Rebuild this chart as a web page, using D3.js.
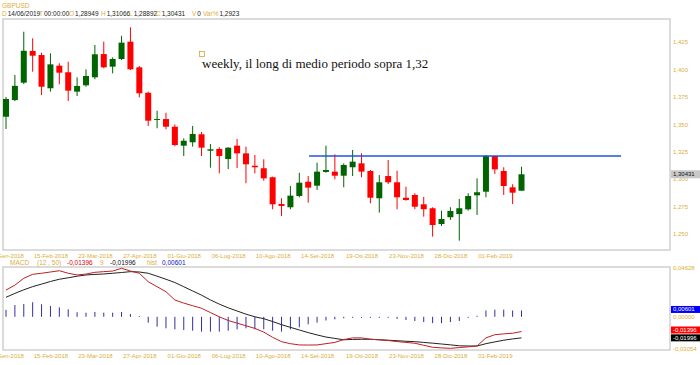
<!DOCTYPE html>
<html>
<head>
<meta charset="utf-8">
<script src="https://cdn.jsdelivr.net/npm/d3@7"></script>
<style>
  body { margin: 0; background: #fff; }
  svg { display: block; font-family: Arial, "Liberation Sans", sans-serif; }
</style>
</head>
<body>
<script>
// GBPUSD weekly candles
const opens  = [1.3568, 1.3720, 1.3879, 1.4168, 1.4131, 1.3828, 1.4034, 1.3974, 1.3797, 1.3855,
                1.3928, 1.4140, 1.4025, 1.4095, 1.4253, 1.4019, 1.3787, 1.3539, 1.3547, 1.3477,
                1.3304, 1.3335, 1.3408, 1.3258, 1.3274, 1.3182, 1.3304, 1.3234, 1.3121, 1.3098,
                1.3016, 1.2772, 1.2742, 1.2845, 1.2975, 1.2939, 1.3064, 1.3067, 1.3030, 1.3107,
                1.3143, 1.3073, 1.2824, 1.3027, 1.2970, 1.2829, 1.2854, 1.2769, 1.2733, 1.2589,
                1.2651, 1.2680, 1.2723, 1.2851, 1.2884, 1.3210, 1.3073, 1.2924, 1.2893];
const highs  = [1.3748, 1.3949, 1.4344, 1.4284, 1.4152, 1.4147, 1.4056, 1.4070, 1.3928, 1.4001,
                1.4223, 1.4253, 1.4110, 1.4307, 1.4384, 1.4031, 1.3797, 1.3623, 1.3605, 1.3498,
                1.3371, 1.3484, 1.3429, 1.3319, 1.3289, 1.3289, 1.3365, 1.3295, 1.3219, 1.3180,
                1.3021, 1.2824, 1.2936, 1.3057, 1.3027, 1.3149, 1.3304, 1.3225, 1.3143, 1.3265,
                1.3234, 1.3082, 1.3036, 1.3173, 1.3076, 1.2930, 1.2870, 1.2838, 1.2742, 1.2711,
                1.2742, 1.2818, 1.2870, 1.3006, 1.3219, 1.3210, 1.3107, 1.2952, 1.3112];
const lows   = [1.3456, 1.3710, 1.3867, 1.3979, 1.3766, 1.3797, 1.3864, 1.3712, 1.3757, 1.3842,
                1.3910, 1.4010, 1.3964, 1.4086, 1.3995, 1.3745, 1.3484, 1.3463, 1.3453, 1.3299,
                1.3210, 1.3295, 1.3210, 1.3103, 1.3052, 1.3091, 1.3100, 1.2961, 1.3052, 1.2984,
                1.2724, 1.2662, 1.2724, 1.2833, 1.2784, 1.2900, 1.3057, 1.2997, 1.2924, 1.3027,
                1.3016, 1.2778, 1.2693, 1.2954, 1.2724, 1.2802, 1.2724, 1.2656, 1.2474, 1.2571,
                1.2626, 1.2437, 1.2711, 1.2672, 1.2833, 1.3046, 1.2854, 1.2772, 1.2893];
const closes = [1.3730, 1.3850, 1.4170, 1.4125, 1.3842, 1.4046, 1.3970, 1.3806, 1.3849, 1.3940,
                1.4138, 1.4019, 1.4095, 1.4244, 1.4001, 1.3782, 1.3532, 1.3548, 1.3477, 1.3310,
                1.3349, 1.3411, 1.3286, 1.3271, 1.3210, 1.3286, 1.3234, 1.3134, 1.3107, 1.3006,
                1.2769, 1.2754, 1.2848, 1.2966, 1.2921, 1.3067, 1.3082, 1.3030, 1.3128, 1.3158,
                1.3067, 1.2829, 1.2970, 1.2970, 1.2833, 1.2808, 1.2747, 1.2724, 1.2580, 1.2635,
                1.2708, 1.2733, 1.2845, 1.2879, 1.3210, 1.3088, 1.2936, 1.2875, 1.30431];

// MACD (12, 50), signal 9, histogram
const macdLine = [0.0254, 0.0300, 0.0365, 0.0403, 0.0413, 0.0425, 0.0437, 0.0413, 0.0397, 0.0405,
                  0.0422, 0.0428, 0.0434, 0.0460, 0.0434, 0.0413, 0.0333, 0.0285, 0.0238, 0.0159,
                  0.0130, 0.0105, 0.0081, 0.0040, 0.0000, -0.0035, -0.0060, -0.0085, -0.0110, -0.0145,
                  -0.0195, -0.0236, -0.0255, -0.0267, -0.0268, -0.0267, -0.0255, -0.0243, -0.0216, -0.0200,
                  -0.0200, -0.0213, -0.0218, -0.0225, -0.0235, -0.0243, -0.0251, -0.0270, -0.0289, -0.0295,
                  -0.0299, -0.0292, -0.0285, -0.0277, -0.0200, -0.0170, -0.0162, -0.0156, -0.01396];
const signalLine = [0.0185, 0.0222, 0.0256, 0.0286, 0.0310, 0.0335, 0.0356, 0.0370, 0.0385, 0.0397,
                    0.0402, 0.0406, 0.0413, 0.0420, 0.0428, 0.0425, 0.0413, 0.0385, 0.0356, 0.0325,
                    0.0285, 0.0245, 0.0205, 0.0160, 0.0120, 0.0085, 0.0055, 0.0025, 0.0000, -0.0018,
                    -0.0045, -0.0075, -0.0100, -0.0125, -0.0150, -0.0172, -0.0192, -0.0205, -0.0218, -0.0215,
                    -0.0213, -0.0213, -0.0218, -0.0222, -0.0227, -0.0232, -0.0236, -0.0243, -0.0250, -0.0258,
                    -0.0266, -0.0275, -0.0277, -0.0277, -0.0255, -0.0238, -0.0222, -0.0210, -0.01996];
const histValues = [0.0065, 0.0112, 0.0121, 0.0138, 0.0119, 0.0102, 0.0090, 0.0071, 0.0043, 0.0039,
                    0.0046, 0.0039, 0.0039, 0.0046, 0.0027, 0.0008, -0.0056, -0.0094, -0.0109, -0.0119,
                    -0.0125, -0.0132, -0.0141, -0.0141, -0.0141, -0.0132, -0.0119, -0.0109, -0.0119, -0.0119,
                    -0.0132, -0.0141, -0.0119, -0.0100, -0.0071, -0.0056, -0.0035, -0.0024, -0.0014, -0.0010,
                    -0.0010, -0.0010, -0.0010, -0.0010, -0.0020, -0.0030, -0.0040, -0.0050, -0.0060, -0.0060,
                    -0.0050, -0.0040, -0.0010, 0.0010, 0.0060, 0.0068, 0.0068, 0.0060, 0.00601];

// Axis labels
const dateLabels = ["11-Gen-2018", "15-Feb-2018", "23-Mar-2018", "27-Apr-2018", "01-Giu-2018", "06-Lug-2018",
                    "10-Ago-2018", "14-Set-2018", "19-Ott-2018", "23-Nov-2018", "28-Dic-2018", "01-Feb-2019"];
const dateLabelIdx = [0, 5, 10, 15, 20, 25, 30, 35, 40, 45, 50, 55];
const priceTicks = [1.250, 1.275, 1.300, 1.325, 1.350, 1.375, 1.400, 1.425];
const macdTicks = [0.04628, 0, -0.03054];

// Resistance line (value, from candle, to candle)
const resistance = [{value: 1.321, from: 34.1, to: 69.2}];

const width = 700;
const height = 365;
const gold = "#dcae3c";
const up = "#006400";
const down = "#ff0000";

const it = d3.formatLocale({decimal: ",", thousands: ".", grouping: [3], currency: ["", ""], minus: "-"});
const f3 = it.format(".3f");
const f5 = it.format(".5f");

const svg = d3.select("body").append("svg")
    .attr("width", width)
    .attr("height", height);

const pricePanel = {left: 3, right: 670, top: 19, bottom: 250};
const macdPanel = {left: 3, right: 670, top: 267, bottom: 350};

const n = closes.length;
const x = d3.scaleLinear().domain([0, n - 1]).range([6, 521.5]);
const y = d3.scaleLinear().domain([1.2352, 1.446]).range([pricePanel.bottom, pricePanel.top]);
const ym = d3.scaleLinear().domain([-0.03054, 0.04628]).range([349, 268]);

// Panel frames
[pricePanel, macdPanel].forEach((p) => {
    svg.append("rect")
        .attr("x", p.left)
        .attr("y", p.top)
        .attr("width", p.right - p.left)
        .attr("height", p.bottom - p.top)
        .attr("fill", "none")
        .attr("stroke", "#d0d0d0")
        .attr("stroke-width", 1.5);
});

// Header
const header = svg.append("g").attr("font-size", "6.5px");
header.append("text").attr("x", 2).attr("y", 8).attr("fill", gold).text("GBPUSD");

const info = [
    ["D", "14/06/2019", 2], ["T", "00:00:00", 39], ["O", "1,28949", 69], ["H", "1,31066", 101],
    ["L", "1,28892", 129], ["C", "1,30431", 156], ["V", "0", 192], ["Var%", "1,2923", 203]
];
info.forEach(([k, v, px]) => {
    const t = header.append("text").attr("x", px).attr("y", 16);
    t.append("tspan").attr("fill", gold).text(k);
    t.append("tspan").attr("fill", "#222").attr("dx", 1).text(v);
});

// Price axis on the right
const yAxis = svg.append("g")
    .attr("transform", `translate(${pricePanel.right},0)`)
    .call(d3.axisRight(y).tickValues(priceTicks).tickSize(0).tickPadding(3).tickFormat(f3));
yAxis.select(".domain").remove();
yAxis.selectAll("text").attr("fill", gold).attr("font-size", "6px");

// Date axes under both panels (the first label runs off the left edge, as in the original)
[pricePanel, macdPanel].forEach((p) => {
    const g = svg.append("g")
        .attr("transform", `translate(0,${p.bottom})`)
        .call(d3.axisBottom(x).tickValues(dateLabelIdx).tickSize(0).tickPadding(4)
            .tickFormat((d, i) => dateLabels[i]));
    g.select(".domain").remove();
    g.selectAll("text").attr("fill", gold).attr("font-size", "6px");
});

// Candles
const candles = svg.append("g")
    .selectAll("g")
    .data(d3.range(n))
    .join("g")
    .attr("fill", (i) => closes[i] >= opens[i] ? up : down)
    .attr("stroke", (i) => closes[i] >= opens[i] ? up : down);

candles.append("line")
    .attr("x1", (i) => x(i))
    .attr("x2", (i) => x(i))
    .attr("y1", (i) => y(highs[i]))
    .attr("y2", (i) => y(lows[i]))
    .attr("stroke-width", 1);

candles.append("rect")
    .attr("x", (i) => x(i) - 3)
    .attr("width", 6)
    .attr("y", (i) => y(Math.max(opens[i], closes[i])))
    .attr("height", (i) => Math.max(1, Math.abs(y(opens[i]) - y(closes[i]))))
    .attr("stroke", "none");

// Resistance line
svg.selectAll(".res")
    .data(resistance)
    .join("line")
    .attr("class", "res")
    .attr("x1", (d) => x(d.from))
    .attr("x2", (d) => x(d.to))
    .attr("y1", (d) => y(d.value))
    .attr("y2", (d) => y(d.value))
    .attr("stroke", "#2255dd")
    .attr("stroke-width", 1.5);

// Annotation
svg.append("rect")
    .attr("x", 199.5).attr("y", 51.5).attr("width", 5).attr("height", 5)
    .attr("fill", "none").attr("stroke", "#e0a030").attr("stroke-width", 0.8);
svg.append("text")
    .attr("x", 202).attr("y", 68)
    .attr("font-family", "'Liberation Serif', 'Times New Roman', serif")
    .attr("font-size", "13px")
    .attr("fill", "#111")
    .text("weekly, il long di medio periodo sopra 1,32");

// Last price tag
const lastY = y(closes[n - 1]);
svg.append("rect").attr("x", 671).attr("y", lastY - 4).attr("width", 29).attr("height", 8).attr("fill", "#c8c8c8");
svg.append("text").attr("x", 673).attr("y", lastY + 2).attr("font-size", "6px").attr("fill", "#111")
    .text(f5(closes[n - 1]));

// MACD header
const macdHead = svg.append("text").attr("y", 265).attr("font-size", "6.5px");
[["MACD", gold, 10], ["(12 , 50)", gold, 37], [f5(macdLine[n - 1]), "#e00000", 67], ["9", gold, 100],
 [f5(signalLine[n - 1]), "#111", 110], ["hist", gold, 147], [f5(histValues[n - 1]), "#1010c0", 162]]
    .forEach(([t, c, px]) => {
        macdHead.append("tspan").attr("x", px).attr("fill", c).text(t);
    });

// MACD axis
const mAxis = svg.append("g")
    .attr("transform", `translate(${macdPanel.right},0)`)
    .call(d3.axisRight(ym).tickValues(macdTicks).tickSize(0).tickPadding(3).tickFormat(f5));
mAxis.select(".domain").remove();
mAxis.selectAll("text").attr("fill", gold).attr("font-size", "6px");

// Histogram
svg.append("g")
    .selectAll("line")
    .data(d3.range(n))
    .join("line")
    .attr("x1", (i) => x(i))
    .attr("x2", (i) => x(i))
    .attr("y1", ym(0))
    .attr("y2", (i) => ym(histValues[i]))
    .attr("stroke", "#3030a0")
    .attr("stroke-width", 1);

// MACD + signal lines
const lineGen = (arr) => d3.line().x((d, i) => x(i)).y((d) => ym(d))(arr);
svg.append("path").attr("d", lineGen(signalLine)).attr("fill", "none").attr("stroke", "#222").attr("stroke-width", 1);
svg.append("path").attr("d", lineGen(macdLine)).attr("fill", "none").attr("stroke", "#c02020").attr("stroke-width", 1);

// Value tags on the MACD axis
const tags = [
    {v: histValues[n - 1], bg: "#0000ff", cy: ym(histValues[n - 1]) - 1},
    {v: macdLine[n - 1], bg: "#ff0000", cy: ym(macdLine[n - 1]) - 1.5},
    {v: signalLine[n - 1], bg: "#000000", cy: ym(signalLine[n - 1])}
];
tags.forEach((t) => {
    svg.append("rect").attr("x", 671).attr("y", t.cy - 3.5).attr("width", 29).attr("height", 7).attr("fill", t.bg);
    svg.append("text").attr("x", 673).attr("y", t.cy + 2).attr("font-size", "6px").attr("fill", "#fff").text(f5(t.v));
});
</script>
</body>
</html>
